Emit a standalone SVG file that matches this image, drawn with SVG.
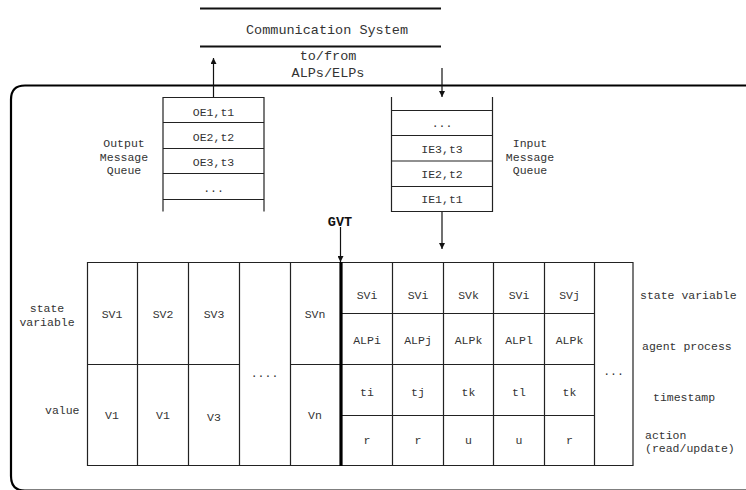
<svg xmlns="http://www.w3.org/2000/svg" width="746" height="490" viewBox="0 0 746 490">
<style>
text{font-family:"Liberation Mono","Courier New",monospace;fill:#333;font-size:11.5px}
.big{font-size:13.5px}
.c{text-anchor:middle}
.ln{stroke:#222;stroke-width:1.2;fill:none}
.thick{stroke:#000;stroke-width:3.2;fill:none}
.fr{stroke:#000;stroke-width:2.2;fill:none}
.ar{stroke:#111;stroke-width:1.2;fill:none}
</style>
<defs>
<marker id="ah" viewBox="0 0 8 8" refX="8" refY="4" markerWidth="6" markerHeight="6" markerUnits="userSpaceOnUse" orient="auto">
<path d="M0,0 L8,4 L0,8 Z" fill="#111"/>
</marker>
</defs>
<rect width="746" height="490" fill="#fff"/>

<g id="frame">
<path class="fr" d="M747,85.5 H25 Q11,85.5 11,99.5 V476 Q11,490.6 25,490.6 H747"/>
</g>

<g id="comm-system">
<line x1="200" y1="8.5" x2="441" y2="8.5" stroke="#111" stroke-width="2"/>
<line x1="200" y1="46.5" x2="441" y2="46.5" stroke="#111" stroke-width="2"/>
<text class="big c" x="327" y="33.5">Communication System</text>
<text class="big c" x="328" y="59.5">to/from</text>
<text class="big c" x="328" y="76.5">ALPs/ELPs</text>
</g>

<g id="output-queue">
<path class="ln" d="M163,211.5 V97.5 H264 V211.5 M163,122.5 H264 M163,148.5 H264 M163,173.5 H264 M163,199.5 H264"/>
<text class="c" x="213.5" y="115.5">OE1,t1</text>
<text class="c" x="213.5" y="140.5">OE2,t2</text>
<text class="c" x="213.5" y="165.5">OE3,t3</text>
<text class="c" x="213.5" y="192">...</text>
<text class="c" x="124" y="146.5">Output</text>
<text class="c" x="124" y="160.5">Message</text>
<text class="c" x="124" y="174">Queue</text>
</g>

<g id="input-queue">
<path class="ln" d="M391.5,97 V211.5 H492.5 V97 M391.5,110.5 H492.5 M391.5,135.5 H492.5 M391.5,161 H492.5 M391.5,186.5 H492.5"/>
<text class="c" x="442" y="127">...</text>
<text class="c" x="442" y="152.5">IE3,t3</text>
<text class="c" x="442" y="178">IE2,t2</text>
<text class="c" x="442" y="203">IE1,t1</text>
<text class="c" x="530" y="146.5">Input</text>
<text class="c" x="530" y="160.5">Message</text>
<text class="c" x="530" y="174">Queue</text>
</g>

<g id="gvt">
<text class="big c" x="340" y="226" style="font-weight:bold;fill:#111">GVT</text>
</g>

<g id="state-table">
<path class="ln" d="M87.5,262.5 H633 V465.5 H87.5 Z M137.5,262.5 V465.5 M188.5,262.5 V465.5 M239.5,262.5 V465.5 M290.5,262.5 V465.5 M87.5,364.5 H239.5 M290.5,364.5 H594.5"/>
<text class="c" x="112" y="318">SV1</text>
<text class="c" x="163" y="318">SV2</text>
<text class="c" x="214" y="318">SV3</text>
<text class="c" x="315" y="318">SVn</text>
<text class="c" x="112" y="419">V1</text>
<text class="c" x="163" y="419">V1</text>
<text class="c" x="214" y="420.5">V3</text>
<text class="c" x="315" y="419">Vn</text>
<text class="c" x="264.5" y="377">....</text>
<text class="c" x="47" y="312">state</text>
<text class="c" x="47" y="326">variable</text>
<text x="45" y="414">value</text>
</g>

<g id="event-table">
<path class="ln" d="M392.5,262.5 V465.5 M443.5,262.5 V465.5 M493.5,262.5 V465.5 M544.5,262.5 V465.5 M594.5,262.5 V465.5 M341,313.5 H594.5 M341,415.5 H594.5"/>
<text class="c" x="367" y="299">SVi</text>
<text class="c" x="418" y="299">SVi</text>
<text class="c" x="468.5" y="299">SVk</text>
<text class="c" x="519" y="299">SVi</text>
<text class="c" x="569.5" y="299">SVj</text>
<text class="c" x="367" y="344">ALPi</text>
<text class="c" x="418" y="344">ALPj</text>
<text class="c" x="468.5" y="344">ALPk</text>
<text class="c" x="519" y="344">ALPl</text>
<text class="c" x="569.5" y="344">ALPk</text>
<text class="c" x="367" y="395.5">ti</text>
<text class="c" x="418" y="395.5">tj</text>
<text class="c" x="468.5" y="395.5">tk</text>
<text class="c" x="519" y="395.5">tl</text>
<text class="c" x="569.5" y="395.5">tk</text>
<text class="c" x="367" y="444">r</text>
<text class="c" x="418" y="444">r</text>
<text class="c" x="468.5" y="444">u</text>
<text class="c" x="519" y="444">u</text>
<text class="c" x="569.5" y="444">r</text>
<text class="c" x="613.5" y="375">...</text>
<text x="640" y="299">state variable</text>
<text x="642" y="350">agent process</text>
<text x="653" y="401">timestamp</text>
<text x="645" y="439">action</text>
<text x="645" y="452">(read/update)</text>
</g>

<g id="connectors">
<line class="thick" x1="341" y1="262" x2="341" y2="466"/>
<line class="ar" x1="213.5" y1="97" x2="213.5" y2="58" marker-end="url(#ah)"/>
<line class="ar" x1="442" y1="68" x2="442" y2="97" marker-end="url(#ah)"/>
<line class="ar" x1="442" y1="212" x2="442" y2="249" marker-end="url(#ah)"/>
<line class="ar" x1="340.5" y1="227" x2="340.5" y2="262" marker-end="url(#ah)"/>
</g>
</svg>
